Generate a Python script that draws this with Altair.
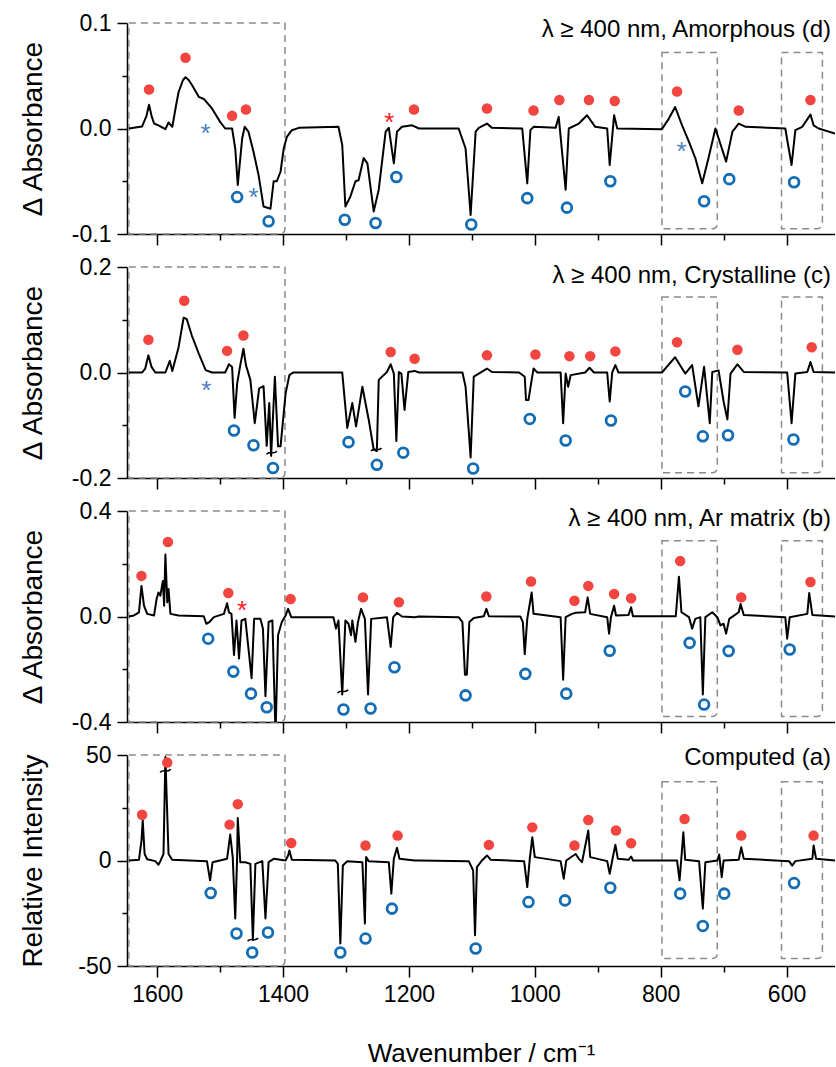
import altair as alt
import pandas as pd

FONT = "Liberation Sans"
X_DOMAIN = [523, 1648]
X_TICKS = [600, 700, 800, 900, 1000, 1100, 1200, 1300, 1400, 1500, 1600]
RED = "#f2453f"
BLUE = "#146db4"
AST_RED = "#ff1a1a"
AST_BLUE = "#4d7fc2"
BOX = "#8a8a8a"
BREAK_SHAPE = "M-1,0.3C-0.4,-0.5 0.4,0.5 1,-0.3"

# ---------------- panel (d) amorphous ----------------
SPEC_D = [(1645, 0), (1624, 0.002), (1617, 0.012), (1613, 0.0226), (1609, 0.012), (1605, 0.0047), (1598, 0.003), (1587, -0.0006),
          (1582, 0.0057), (1576, 0.0016), (1570, 0.022), (1566, 0.0346), (1559, 0.046), (1555, 0.0487), (1550, 0.046), (1545, 0.0415), (1534, 0.030),
          (1526, 0.028), (1513, 0.019), (1500, 0.0063), (1492, 0), (1481, 0), (1476, -0.019),
          (1472, -0.0535), (1465, -0.0094), (1461, 0.0016), (1455, -0.003), (1447, -0.022), (1439, -0.044),
          (1431, -0.074), (1420, -0.076), (1415, -0.05), (1410, -0.05), (1404, -0.041), (1399, -0.019),
          (1394, -0.008), (1386, -0.0016), (1375, 0.0006), (1312, 0.0016), (1306, -0.0157), (1301, -0.074),
          (1293, -0.0645), (1285, -0.05), (1280, -0.049), (1272, -0.028), (1266, -0.033), (1256, -0.0786),
          (1248, -0.058), (1237, -0.003), (1232, 0.0006), (1224, -0.033), (1219, -0.003), (1211, 0.0016),
          (1195, 0.003), (1184, 0), (1121, 0), (1110, -0.019), (1102, -0.082), (1094, -0.003),
          (1089, 0.0006), (1076, 0.0047), (1068, 0.0006), (1020, 0), (1012, -0.052), (1007, -0.0016),
          (1002, 0.0016), (967, 0.0006), (962, 0.011), (951, -0.058), (946, 0), (930, 0.0047),
          (917, 0.0126), (904, 0.0016), (885, 0), (881, -0.0346), (874, 0.0126), (869, 0),
          (798, -0.0006), (787, 0.0094), (777, 0.0204), (766, 0.003), (755, -0.0126), (745, -0.028),
          (734, -0.052), (724, -0.028), (713, 0), (696, -0.0314), (686, -0.003), (676, 0.0047),
          (665, 0.0016), (602, 0), (592, -0.0346), (586, -0.0016), (575, 0.0016), (562, 0.0132),
          (557, 0.003), (549, 0), (523, -0.0047)]
RED_D = [(1613, 0.037), (1555, 0.067), (1481, 0.012), (1459, 0.018), (1192, 0.018), (1076, 0.019),
         (1002, 0.017), (961, 0.027), (914, 0.027), (873, 0.026), (774, 0.035), (676, 0.017), (562, 0.027)]
BLUE_D = [(1473, -0.065), (1423, -0.088), (1302, -0.0865), (1253, -0.0896), (1220, -0.046),
          (1101, -0.091), (1012, -0.066), (949, -0.075), (880, -0.050), (731, -0.069), (691, -0.048),
          (588, -0.051)]
AST_RED_D = [(1231, 0.012)]
AST_BLUE_D = [(1523, 0.0016), (1447, -0.059), (767, -0.0157)]
BREAKS_D = []
BOXES_D = [(1645, 1397, 0.1, -0.1), (798, 710, 0.072, -0.095), (608, 543, 0.072, -0.095)]

# ---------------- panel (c) crystalline ----------------
SPEC_C = [(1645, 0), (1624, 0), (1619, 0.0075), (1614, 0.0325), (1609, 0.0106), (1603, 0), (1587, 0),
          (1580, 0.022), (1576, 0.003), (1566, 0.048), (1558, 0.104), (1553, 0.101), (1545, 0.070),
          (1534, 0.036), (1523, 0.0044), (1513, 0), (1492, 0), (1486, 0.0156), (1481, 0.0106),
          (1477, -0.086), (1473, -0.021), (1468, 0.014), (1463, 0.045), (1459, 0.014), (1452, -0.014),
          (1445, -0.096), (1438, -0.030), (1431, -0.026), (1426, -0.139), (1422, -0.058), (1419, -0.158),
          (1413, -0.008), (1408, -0.14), (1404, -0.14), (1396, -0.04), (1390, -0.005), (1384, 0),
          (1306, 0), (1298, -0.105), (1290, -0.058), (1284, -0.102), (1274, -0.027), (1264, -0.089),
          (1256, -0.146), (1251, -0.149), (1248, -0.014), (1235, 0.001), (1229, 0.0156), (1224, -0.002),
          (1220, -0.13), (1216, 0.001), (1212, -0.002), (1207, -0.071), (1201, 0.001), (1191, 0.003),
          (1184, 0), (1115, 0), (1110, -0.027), (1102, -0.161), (1097, -0.008), (1089, -0.002),
          (1076, 0.0075), (1068, 0.001), (1025, 0), (1016, -0.008), (1014, -0.052), (1010, -0.052),
          (1005, -0.014), (1002, 0.0075), (996, 0), (959, 0), (955, -0.096), (951, -0.002),
          (947, -0.027), (943, -0.005), (920, 0), (913, 0.009), (906, 0), (885, 0), (881, -0.055),
          (877, 0), (872, 0.014), (867, 0), (798, 0), (777, 0.029), (761, -0.002), (750, 0.014),
          (740, -0.064), (731, 0.011), (722, -0.096), (718, 0.001), (708, 0.004), (700, -0.055),
          (694, -0.089), (689, -0.002), (678, 0.0156), (668, 0.001), (599, 0), (592, -0.096),
          (586, -0.002), (567, 0.001), (562, 0.020), (557, 0.001), (523, 0)]
RED_C = [(1614, 0.062), (1557, 0.136), (1489, 0.041), (1463, 0.07), (1229, 0.039), (1191, 0.026),
         (1076, 0.0325), (999, 0.034), (945, 0.031), (912, 0.031), (872, 0.040), (774, 0.0575),
         (678, 0.043), (560, 0.048)]
BLUE_C = [(1478, -0.11), (1447, -0.138), (1416, -0.181), (1296, -0.132), (1251, -0.175), (1209, -0.152),
          (1098, -0.182), (1008, -0.088), (951, -0.129), (879, -0.091), (761, -0.036), (733, -0.121),
          (693, -0.119), (589, -0.127)]
AST_RED_C = []
AST_BLUE_C = [(1522, -0.022)]
BREAKS_C = [(1418, -0.152), (1252, -0.146)]
BOXES_C = [(1645, 1397, 0.2, -0.2), (798, 710, 0.143, -0.19), (608, 543, 0.143, -0.19)]

# ---------------- panel (b) Ar matrix ----------------
SPEC_B = [(1645, 0), (1637, 0.004), (1629, 0.016), (1625, 0.116), (1621, 0.041), (1616, 0.01),
          (1605, 0.004), (1601, 0.066), (1598, 0.091), (1595, 0.079), (1591, 0.135), (1589, 0.041),
          (1587, 0.235), (1584, 0.054), (1582, 0.104), (1579, 0.01), (1566, 0.004), (1526, 0.001),
          (1522, -0.0275), (1517, -0.021), (1510, -0.0025), (1494, 0.01), (1489, 0.05), (1486, 0.016),
          (1482, 0.01), (1478, -0.146), (1474, -0.015), (1470, -0.159), (1466, -0.015), (1460, -0.009),
          (1450, -0.234), (1446, -0.009), (1436, -0.009), (1432, -0.046), (1428, -0.3025), (1423, -0.021),
          (1417, -0.015), (1412, -0.45), (1408, -0.071), (1402, -0.021), (1396, 0.004), (1392, 0.029),
          (1387, -0.0025), (1320, -0.0025), (1316, -0.046), (1312, -0.015), (1306, -0.296),
          (1301, -0.015), (1296, -0.0275), (1292, -0.071), (1290, -0.015), (1285, -0.096),
          (1281, -0.021), (1276, 0.029), (1270, -0.009), (1265, -0.296), (1260, -0.009),
          (1235, -0.0025), (1229, -0.115), (1225, -0.0025), (1219, 0.014), (1211, 0), (1191, -0.0025),
          (1184, 0), (1121, -0.0025), (1115, -0.021), (1111, -0.221), (1108, -0.221), (1104, -0.021),
          (1097, -0.006), (1081, 0.001), (1077, 0.029), (1073, 0.001), (1023, 0), (1019, -0.021),
          (1016, -0.1425), (1012, -0.009), (1005, 0.091), (1002, 0.01), (959, -0.0025), (955, -0.24),
          (951, -0.0025), (941, 0.01), (935, 0.014), (920, 0.016), (916, 0.0725), (912, 0.01),
          (885, -0.0025), (882, -0.065), (879, -0.0025), (874, 0.041), (871, 0.004), (851, 0.006),
          (847, 0.035), (844, 0.001), (776, 0.001), (771, 0.151), (767, 0.016), (755, -0.0025),
          (750, -0.046), (745, -0.009), (737, -0.0025), (733, -0.296), (729, -0.0025), (718, 0.016),
          (710, -0.0025), (705, -0.034), (700, -0.0275), (696, -0.065), (691, -0.009), (676, 0.016),
          (673, 0.0475), (668, 0.006), (602, -0.0025), (599, -0.084), (595, -0.0025), (567, 0.01),
          (564, 0.089), (559, 0.006), (523, 0)]
RED_B = [(1625, 0.154), (1583, 0.2825), (1487, 0.089), (1388, 0.066), (1273, 0.0725), (1216, 0.054),
         (1077, 0.076), (1006, 0.1325), (937, 0.06), (915, 0.116), (874, 0.085), (847, 0.069),
         (769, 0.21), (672, 0.0725), (562, 0.131)]
BLUE_B = [(1519, -0.084), (1479, -0.209), (1451, -0.2925), (1426, -0.344), (1304, -0.3525),
          (1261, -0.349), (1223, -0.1925), (1110, -0.299), (1015, -0.2175), (950, -0.2925),
          (881, -0.13), (754, -0.10), (731, -0.334), (692, -0.131), (595, -0.125)]
AST_RED_B = [(1465, 0.0475)]
AST_BLUE_B = []
BREAKS_B = [(1305, -0.284)]
BOXES_B = [(1645, 1397, 0.4, -0.4), (798, 710, 0.287, -0.379), (608, 543, 0.287, -0.379)]

# ---------------- panel (a) computed ----------------
SPEC_A = [(1645, 0), (1629, 0.3), (1625, 9.4), (1623, 19), (1620, 3.1), (1616, 0.6), (1603, -0.3),
          (1598, -2), (1595, -0.3), (1590, 3.1), (1587, 49), (1582, 3.1), (1576, 0.3), (1521, -0.3),
          (1516, -9.4), (1512, -0.8), (1489, 0.8), (1484, 12.3), (1480, 1.6), (1476, -27.5),
          (1473, 1.6), (1472, 20.1), (1468, -0.8), (1460, -0.8), (1452, -1.6), (1448, -37.7),
          (1444, -1.6), (1433, -0.3), (1428, -27.5), (1423, -0.8), (1415, 0.8), (1396, 0),
          (1392, 2.4), (1390, 4.7), (1386, 0.3), (1317, 0), (1313, -1.6), (1309, -39.3), (1305, -2.4),
          (1298, -0.3), (1274, -0.8), (1270, -29.9), (1268, 1.6), (1264, -0.3), (1232, -0.8),
          (1228, -15.7), (1224, 0.8), (1219, 6), (1215, 0.8), (1191, 0), (1184, 0), (1105, -0.3),
          (1098, -4.7), (1095, -35.4), (1092, -3.1), (1084, 0), (1076, 2.4), (1070, 0.3), (1017, -0.3),
          (1012, -12.6), (1008, 0.8), (1004, 11), (1000, 1.6), (959, -0.3), (954, -8.6), (950, 0),
          (941, 1.9), (935, 3.1), (930, 0.8), (925, -0.8), (915, 14.2), (912, 1.6), (885, -0.3),
          (881, -6.3), (877, 0), (872, 7.5), (868, 0.8), (851, 0.3), (847, 1.9), (844, 0), (774, 0),
          (770, -9.4), (767, 1.6), (764, 13.4), (761, 0.3), (739, -0.3), (733, -22.8), (729, -0.8),
          (710, 0), (707, 2.8), (703, -7.9), (700, 0), (676, 0.3), (672, 6.3), (668, 0.8), (596, -0.3),
          (591, -2.4), (586, -0.3), (559, 0.8), (557, 7.1), (553, 0.8), (523, 0)]
RED_A = [(1624, 21.7), (1584, 46.4), (1485, 17), (1472, 26.7), (1387, 8.3), (1269, 7.1), (1218, 11.8),
         (1073, 7.4), (1004, 15.7), (937, 7.1), (915, 19.2), (871, 14.2), (847, 8.2), (762, 19.7),
         (672, 11.8), (557, 11.8)]
BLUE_A = [(1515, -15.4), (1474, -34.6), (1449, -43.6), (1424, -34.1), (1309, -43.6), (1269, -37),
          (1227, -22.8), (1094, -41.7), (1010, -19.7), (952, -18.9), (880, -12.9), (769, -15.7),
          (733, -31), (699, -15.7), (588, -10.7)]
AST_RED_A = []
AST_BLUE_A = []
BREAKS_A = [(1587, 42.5), (1448, -37.5)]
BOXES_A = [(1645, 1397, 50, -50), (798, 710, 37.3, -46.5), (608, 543, 37.3, -46.5)]

PANELS = [
    dict(spec=SPEC_D, red=RED_D, blue=BLUE_D, ar=AST_RED_D, ab=AST_BLUE_D, brk=BREAKS_D, boxes=BOXES_D,
         dom=[-0.1, 0.1], major=0.1, fmt=".1f", title="\u0394 Absorbance",
         label="\u03bb \u2265 400 nm, Amorphous (d)", label_y=7),
    dict(spec=SPEC_C, red=RED_C, blue=BLUE_C, ar=AST_RED_C, ab=AST_BLUE_C, brk=BREAKS_C, boxes=BOXES_C,
         dom=[-0.2, 0.2], major=0.2, fmt=".1f", title="\u0394 Absorbance",
         label="\u03bb \u2265 400 nm, Crystalline (c)", label_y=9),
    dict(spec=SPEC_B, red=RED_B, blue=BLUE_B, ar=AST_RED_B, ab=AST_BLUE_B, brk=BREAKS_B, boxes=BOXES_B,
         dom=[-0.4, 0.4], major=0.4, fmt=".1f", title="\u0394 Absorbance",
         label="\u03bb \u2265 400 nm, Ar matrix (b)", label_y=8),
    dict(spec=SPEC_A, red=RED_A, blue=BLUE_A, ar=AST_RED_A, ab=AST_BLUE_A, brk=BREAKS_A, boxes=BOXES_A,
         dom=[-50, 50], major=50, fmt="d", title="Relative Intensity",
         label="Computed (a)", label_y=3),
]

W, H = 708, 211


def pts(pairs):
    return pd.DataFrame(pairs if pairs else [], columns=["wn", "val"])


def make_panel(p, bottom):
    M = p["major"]
    lo, hi = p["dom"]
    yvals = [lo, lo / 2, 0, hi / 2, hi]
    ytest = f"abs(datum.value) < 1e-9 || abs(abs(datum.value) - {M}) < 1e-9"
    yaxis = alt.Axis(
        values=yvals, title=p["title"], grid=False,
        labelExpr=f"({ytest}) ? replace(format(datum.value, '{p['fmt']}'), '\u2212', '-') : ''",
        tickSize={"condition": {"test": ytest, "value": 10}, "value": 5},
        labelPadding=6, titleX=-86, titleBaseline="alphabetic", titleFontSize=28,
    )
    xtest = "datum.value % 200 == 0"
    if bottom:
        xaxis = alt.Axis(values=X_TICKS, grid=False, format="d",
                         labelExpr=f"({xtest}) ? datum.label : ''",
                         tickSize={"condition": {"test": xtest, "value": 11}, "value": 6},
                         title="Wavenumber / cm\u207b\u00b9", titleFontSize=26, titlePadding=34,
                         labelPadding=6)
    else:
        xaxis = alt.Axis(values=X_TICKS, grid=False, labels=False, title=None,
                         tickSize={"condition": {"test": xtest, "value": 11}, "value": 6})
    xs = alt.Scale(domain=X_DOMAIN, reverse=True, nice=False, zero=False)
    ys = alt.Scale(domain=p["dom"], nice=False, zero=False)
    X = alt.X("wn:Q", scale=xs, axis=xaxis)
    Y = alt.Y("val:Q", scale=ys, axis=yaxis)

    spec = pts(p["spec"])
    spec["i"] = range(len(spec))
    boxes = pd.DataFrame(p["boxes"], columns=["wn", "wn2", "val", "val2"])

    layers = [
        alt.Chart(boxes).mark_rect(fillOpacity=0, stroke=BOX, strokeWidth=1.5, strokeDash=[7, 5],
                                   cornerRadiusBottomRight=5).encode(
            x=X, x2="wn2:Q", y=Y, y2="val2:Q"),
        alt.Chart(spec).mark_line(color="black", strokeWidth=2, clip=True,
                                  strokeJoin="round").encode(x=X, y=Y, order="i:Q"),
    ]
    if p["brk"]:
        layers.append(alt.Chart(pts(p["brk"])).mark_point(
            shape=BREAK_SHAPE, size=110, strokeWidth=1.6, color="black", filled=False, opacity=1
        ).encode(x=X, y=Y))
    layers += [
        alt.Chart(pts(p["red"])).mark_circle(size=110, color=RED, opacity=1).encode(x=X, y=Y),
        alt.Chart(pts(p["blue"])).mark_point(shape="circle", size=95, strokeWidth=2.8, color=BLUE,
                                              filled=False, opacity=1).encode(x=X, y=Y),
    ]
    if p["ar"]:
        layers.append(alt.Chart(pts(p["ar"])).mark_text(text="*", fontSize=26, color=AST_RED,
                                                         baseline="alphabetic", dy=15).encode(x=X, y=Y))
    if p["ab"]:
        layers.append(alt.Chart(pts(p["ab"])).mark_text(text="*", fontSize=26, color=AST_BLUE,
                                                         baseline="alphabetic", dy=15).encode(x=X, y=Y))
    layers.append(
        alt.Chart(pd.DataFrame({"label": [p["label"]]})).mark_text(
            align="right", baseline="middle", fontSize=24, color="black").encode(
            x=alt.value(W - 4), y=alt.value(p["label_y"]), text="label:N")
    )
    return alt.layer(*layers).properties(width=W, height=H)


panels = [make_panel(p, i == len(PANELS) - 1) for i, p in enumerate(PANELS)]

chart = alt.vconcat(*panels, spacing=33, bounds="flush").properties(
    padding={"left": 18, "top": 12, "right": 0, "bottom": 5}
).configure(font=FONT).configure_view(stroke=None).configure_axis(
    domainColor="black", domainWidth=1.5, tickColor="black", tickWidth=1.5,
    labelFontSize=23, labelColor="black", labelFont=FONT, titleFont=FONT,
    titleFontWeight="normal", titleColor="black",
)

chart.save("out.html", embed_options={"renderer": "svg", "actions": False})
